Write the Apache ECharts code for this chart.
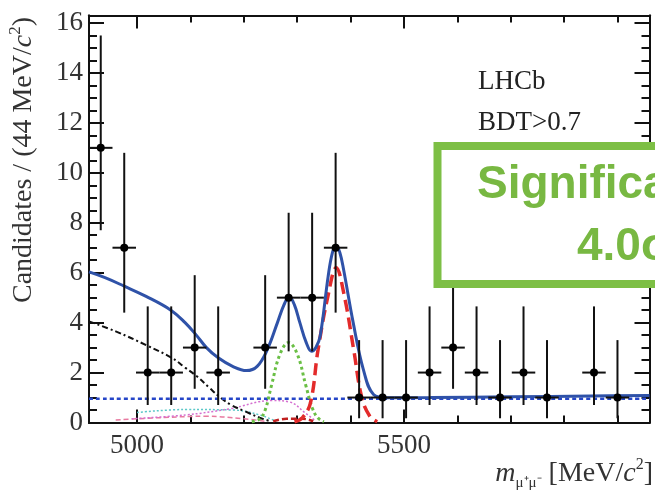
<!DOCTYPE html>
<html>
<head>
<meta charset="utf-8">
<script src="https://cdn.jsdelivr.net/npm/echarts@6/dist/echarts.min.js"></script>
<style>
html,body{margin:0;padding:0;background:#fff;}
#chart{width:655px;height:490px;}
</style>
</head>
<body>
<div id="chart"></div>
<script>
// ---- data ----
const binCenters = [4932,4976,5020,5064,5108,5152,5196,5240,5284,5328,5372,5416,5460,5504,5548,5592,5636,5680,5724,5768,5812,5856,5900,5944];
const counts     = [11,7,2,2,3,2,0,3,5,5,7,1,1,1,2,3,2,1,2,1,0,2,1,0];
const errLow     = [7.7,4.4,0.7,0.7,1.35,0.7,0,1.35,2.85,2.85,4.4,0.17,0.17,0.17,0.7,1.35,0.7,0.17,0.7,0.17,0,0.7,0.17,0];
const errHigh    = [15.5,10.8,4.65,4.65,5.9,4.65,1.84,5.9,8.4,8.4,10.8,3.3,3.3,3.3,4.65,5.9,4.65,3.3,4.65,3.3,1.84,4.65,3.3,1.84];
const binHalfWidth = 22;

// total fit (blue solid)
const totalX = [4910,4940,4975,5017,5064,5090,5111,5130,5152,5179,5205,5225,5244,5263,5275,5285,5295,5305,5317,5327,5335,5343,5358,5366,5373,5380,5387,5405,5424,5443,5468,5550,5700,5850,5960];
const totalY = [6.03,5.8,5.47,5.05,4.49,4.0,3.5,3.0,2.59,2.25,2.08,2.25,2.92,4.0,4.7,5.05,4.7,4.0,3.2,2.85,3.0,3.45,5.85,6.8,7.1,6.8,6.12,3.99,2.12,1.12,0.99,1.0,1.03,1.06,1.08];
// combinatorial (blue dotted)
const combX = [4910,5960];
const combY = [0.95,0.95];
// partially reconstructed (black dash-dot)
const partX = [4910,4960,5019,5065,5090,5112,5135,5155,5175,5202,5230,5250];
const partY = [4.05,3.65,3.08,2.59,2.2,1.85,1.4,1.02,0.72,0.45,0.19,0.05];
// B0 signal (green dotted)
const b0X = [5215,5230,5240,5252,5268,5284,5300,5316,5328,5338,5350];
const b0Y = [0.03,0.15,0.5,1.5,2.75,3.2,2.75,1.5,0.6,0.2,0.03];
// Bs signal (red dashed)
const bsX = [5295,5310,5325,5339,5358,5373,5388,5406,5421,5436,5450];
const bsY = [0.03,0.2,0.8,2.9,5.1,6.2,5.1,2.9,1.0,0.25,0.03];
// small backgrounds
const pinkX = [4990,5090,5174,5252,5286,5314,5335];
const pinkY = [0.15,0.3,0.55,0.88,0.82,0.4,0.05];
const cyanX = [5000,5090,5180,5230,5260];
const cyanY = [0.4,0.52,0.5,0.3,0.05];
const roseX = [4960,5050,5130,5200,5240];
const roseY = [0.1,0.2,0.25,0.15,0.05];
const redSmallX = [5255,5280,5310,5330];
const redSmallY = [0.05,0.15,0.15,0.05];

const xMajor = [5000,5500];
const xMinor = [5100,5200,5300,5400,5600,5700,5800,5900];
const yMajor = [0,2,4,6,8,10,12,14,16];
const yMinor = [0.5,1,1.5,2.5,3,3.5,4.5,5,5.5,6.5,7,7.5,8.5,9,9.5,10.5,11,11.5,12.5,13,13.5,14.5,15,15.5,16];

// ---- build ----
const pairs = (xs, ys) => xs.map((x,i)=>[x, ys[i]]);
const points = [];
binCenters.forEach((c,i)=>{ if (counts[i] > 0) points.push([c, counts[i], errLow[i], errHigh[i]]); });

const serif = 'Liberation Serif, Times New Roman, serif';
const XMIN = 4910, XMAX = 5960, YMIN = 0, YMAX = 16.3;
const plain = v => String(v);

function xAx(pos, ticks, len, labels) {
  return {
    type:'value', min:XMIN, max:XMAX, position:pos,
    axisLine:{show:true, onZero:false, lineStyle:{color:'#111', width:2}},
    axisTick:{show:true, inside:true, length:len, customValues:ticks, lineStyle:{color:'#111', width:2}},
    axisLabel: labels ? {show:true, customValues:labels, formatter:plain, fontSize:27, fontFamily:serif, color:'#333', margin:10} : {show:false},
    splitLine:{show:false}
  };
}
function yAx(pos, ticks, len, labels) {
  return {
    type:'value', min:YMIN, max:YMAX, position:pos,
    axisLine:{show:true, onZero:false, lineStyle:{color:'#111', width:2}},
    axisTick:{show:true, inside:true, length:len, customValues:ticks, lineStyle:{color:'#111', width:2}},
    axisLabel: labels ? {show:true, customValues:labels, formatter:plain, fontSize:27, fontFamily:serif, color:'#333', margin:6} : {show:false},
    splitLine:{show:false}
  };
}

function lineSeries(data, color, width, type, z) {
  return {
    type:'line', data:data, xAxisIndex:0, yAxisIndex:0, showSymbol:false, symbol:'none',
    smooth:0.4, lineStyle:{color:color, width:width, type:type}, z:z||2, silent:true, animation:false
  };
}

const chart = echarts.init(document.getElementById('chart'), null, {renderer:'canvas'});
chart.setOption({
  animation:false,
  backgroundColor:'#fff',
  grid:{left:89, right:5.5, top:15.5, bottom:67.5},
  xAxis:[
    xAx('bottom', xMajor, 13, xMajor),
    xAx('bottom', xMinor, 7, null),
    xAx('top', xMajor, 13, null),
    xAx('top', xMinor, 7, null)
  ],
  yAxis:[
    yAx('left', yMajor, 15, yMajor),
    yAx('left', yMinor, 8, null),
    yAx('right', yMajor, 15, null),
    yAx('right', yMinor, 8, null)
  ],
  series:[
    lineSeries(pairs(roseX, roseY), '#e87aa0', 1.5, [5,3], 2),
    lineSeries(pairs(cyanX, cyanY), '#5cc8c8', 1.5, [2,2], 2),
    lineSeries(pairs(pinkX, pinkY), '#d56fd0', 1.5, [2,2], 2),
    lineSeries(pairs(redSmallX, redSmallY), '#c02020', 2.5, [6,3], 2),
    lineSeries(pairs(partX, partY), '#111', 2, [6,3,2,3], 3),
    lineSeries(pairs(combX, combY), '#2646c8', 2.5, [4,3], 3),
    lineSeries(pairs(b0X, b0Y), '#6abf45', 3, [3,3], 3),
    lineSeries(pairs(bsX, bsY), '#e32b2b', 3.5, [12,6], 3),
    lineSeries(pairs(totalX, totalY), '#2f52a8', 3, 'solid', 4),
    {
      type:'custom', xAxisIndex:0, yAxisIndex:0, data:points, z:5, silent:true,
      renderItem:function(params, api){
        const x = api.value(0), y = api.value(1), lo = api.value(2), hi = api.value(3);
        const c = api.coord([x, y]);
        const t = api.coord([x, hi]);
        const b = api.coord([x, lo]);
        const l = api.coord([x - binHalfWidth, y]);
        const r = api.coord([x + binHalfWidth, y]);
        const st = {stroke:'#111', lineWidth:2};
        return {type:'group', children:[
          {type:'line', shape:{x1:c[0], y1:t[1], x2:c[0], y2:b[1]}, style:st},
          {type:'line', shape:{x1:l[0], y1:c[1], x2:r[0], y2:c[1]}, style:st},
          {type:'circle', shape:{cx:c[0], cy:c[1], r:4}, style:{fill:'#000'}}
        ]};
      }
    }
  ],
  graphic:[
    {
      type:'text', x:24, y:160, rotation:Math.PI/2, z:50,
      style:{
        text:'{n|Candidates / (44 MeV/}{i|c}{s|2}{n|)}',
        align:'center', verticalAlign:'middle',
        rich:{
          n:{fontSize:28, fontFamily:serif, fill:'#333', lineHeight:34, verticalAlign:'middle'},
          i:{fontSize:28, fontFamily:serif, fontStyle:'italic', fill:'#333', lineHeight:34, verticalAlign:'middle'},
          s:{fontSize:17, fontFamily:serif, fill:'#333', lineHeight:34, verticalAlign:'top'}
        }
      }
    },
    {
      type:'text', x:653, y:474, z:50,
      style:{
        text:'{i|m}{sub|μ⁺μ⁻}{n| [MeV/}{i|c}{s|2}{n|]}',
        align:'right', verticalAlign:'middle',
        rich:{
          n:{fontSize:28, fontFamily:serif, fill:'#333', lineHeight:34, verticalAlign:'middle'},
          i:{fontSize:28, fontFamily:serif, fontStyle:'italic', fill:'#333', lineHeight:34, verticalAlign:'middle'},
          sub:{fontSize:15, fontFamily:serif, fill:'#333', lineHeight:34, verticalAlign:'bottom'},
          s:{fontSize:16, fontFamily:serif, fill:'#333', lineHeight:34, verticalAlign:'top'}
        }
      }
    },
    {type:'text', x:478, y:82, z:50, style:{text:'LHCb', font:'27px '+serif, fill:'#222', align:'left', verticalAlign:'middle'}},
    {type:'text', x:478, y:123, z:50, style:{text:'BDT>0.7', font:'27px '+serif, fill:'#222', align:'left', verticalAlign:'middle'}},
    {type:'rect', z:60, shape:{x:437.5, y:146, width:420, height:138}, style:{fill:'#fff', stroke:'#7dbf45', lineWidth:8}},
    {type:'text', x:477, y:185, z:61, style:{text:'Significance', font:'bold 46px Liberation Sans, Arial, sans-serif', fill:'#78b842', align:'left', verticalAlign:'middle'}},
    {type:'text', x:577, y:247, z:61, style:{text:'4.0σ', font:'bold 46px Liberation Sans, Arial, sans-serif', fill:'#78b842', align:'left', verticalAlign:'middle'}}
  ]
});
</script>
</body>
</html>
